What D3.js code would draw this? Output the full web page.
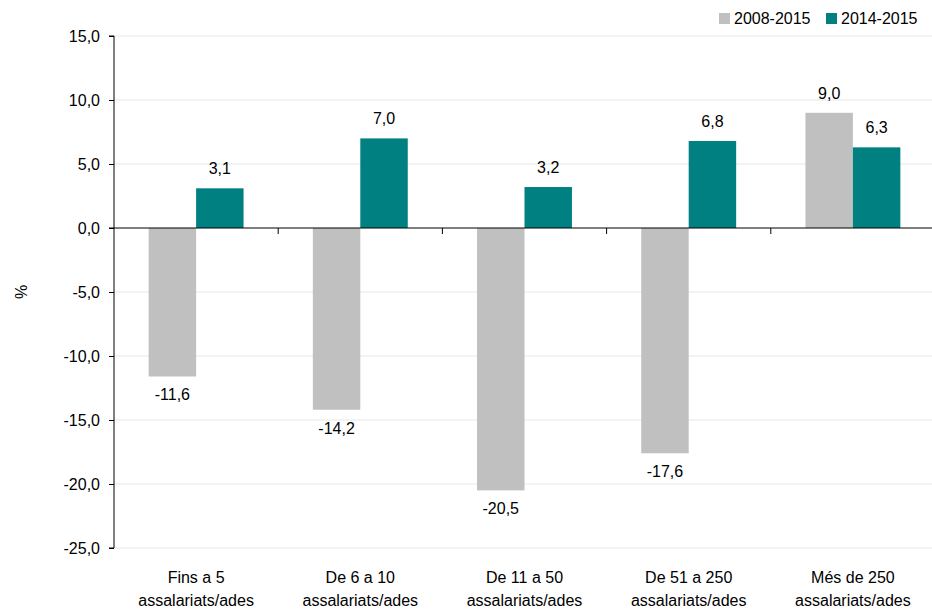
<!DOCTYPE html>
<html>
<head>
<meta charset="utf-8">
<script src="https://cdn.jsdelivr.net/npm/d3@7"></script>
<style>
  body { margin: 0; background: #fff; }
  text { font-family: "Liberation Sans", Arial, sans-serif; }
</style>
</head>
<body>
<svg id="chart" width="932" height="612"></svg>
<script>
var categories = [
  ["Fins a 5", "assalariats/ades"],
  ["De 6 a 10", "assalariats/ades"],
  ["De 11 a 50", "assalariats/ades"],
  ["De 51 a 250", "assalariats/ades"],
  ["Més de 250", "assalariats/ades"]
];
var seriesNames = ["2008-2015", "2014-2015"];
var values2008 = [-11.6, -14.2, -20.5, -17.6, 9.0];
var values2014 = [3.1, 7.0, 3.2, 6.8, 6.3];
var yTicks = [15, 10, 5, 0, -5, -10, -15, -20, -25];
var colors = ['#C0C0C0', '#008080'];

// comma decimal, plain hyphen for negatives
var fmt = function(v) { return v.toFixed(1).replace('.', ','); };

const svg = d3.select('#chart');
const x0 = d3.scaleBand().domain(d3.range(categories.length)).range([114, 935]);
const x1 = d3.scaleBand().domain([0, 1]).range([0, x0.bandwidth()]).paddingOuter(0.73);
const y = d3.scaleLinear().domain([-25, 15]).range([548, 36]);

// gridlines
svg.append('g').selectAll('line')
   .data(yTicks.filter(d => d !== 0))
   .enter().append('line')
   .attr('x1', 114).attr('x2', 932)
   .attr('y1', d => y(d)).attr('y2', d => y(d))
   .attr('stroke', '#e6e6e6').attr('stroke-width', 1);

// bars
var rows = categories.map((c, i) => [values2008[i], values2014[i]]);
var groups = svg.append('g').selectAll('g')
   .data(rows).enter().append('g')
   .attr('transform', (d, i) => 'translate(' + x0(i) + ',0)');

groups.selectAll('rect')
   .data(d => d.map((v, j) => ({v: v, j: j})))
   .enter().append('rect')
   .attr('x', d => x1(d.j))
   .attr('width', x1.bandwidth())
   .attr('y', d => y(Math.max(0, d.v)))
   .attr('height', d => Math.abs(y(d.v) - y(0)))
   .attr('fill', d => colors[d.j]);

groups.selectAll('text.val')
   .data(d => d.map((v, j) => ({v: v, j: j})))
   .enter().append('text')
   .attr('class', 'val')
   .attr('x', d => x1(d.j) + x1.bandwidth() / 2)
   .attr('y', d => d.v >= 0 ? y(d.v) - 14 : y(d.v) + 24)
   .attr('text-anchor', 'middle')
   .attr('font-size', '16px')
   .attr('fill', '#000')
   .text(d => fmt(d.v));

// y axis
const yAxis = d3.axisLeft(y).tickValues(yTicks).tickSize(5).tickPadding(9).tickFormat(fmt);
var yg = svg.append('g').attr('transform', 'translate(114,0)').call(yAxis);
yg.select('.domain').attr('d', 'M-5,' + y(15) + 'H0V' + y(-25) + 'H-5').attr('stroke', '#000');
yg.selectAll('.tick line').attr('stroke', '#000');
yg.selectAll('.tick text').attr('font-size', '16px').attr('fill', '#000')
  .style('font-family', '"Liberation Sans", Arial, sans-serif');

// zero line with category ticks
svg.append('line')
   .attr('x1', 109).attr('x2', 932)
   .attr('y1', y(0)).attr('y2', y(0))
   .attr('stroke', '#000').attr('stroke-width', 1.2);
svg.append('g').selectAll('line')
   .data(d3.range(1, categories.length))
   .enter().append('line')
   .attr('x1', d => x0(d)).attr('x2', d => x0(d))
   .attr('y1', y(0)).attr('y2', y(0) + 6)
   .attr('stroke', '#000');

// x labels
var xl = svg.append('g').selectAll('text')
   .data(categories).enter().append('text')
   .attr('x', (d, i) => x0(i) + x0.bandwidth() / 2)
   .attr('y', 583)
   .attr('text-anchor', 'middle')
   .attr('font-size', '16px')
   .attr('fill', '#000');
xl.append('tspan').attr('x', (d, i) => x0(i) + x0.bandwidth() / 2).text(d => d[0]);
xl.append('tspan').attr('x', (d, i) => x0(i) + x0.bandwidth() / 2).attr('dy', 23).text(d => d[1]);

// y label
svg.append('text')
   .attr('transform', 'translate(27,292) rotate(-90)')
   .attr('text-anchor', 'middle')
   .attr('font-size', '16px')
   .text('%');

// legend
var legX = [719, 826];
var leg = svg.append('g').selectAll('g')
   .data(seriesNames).enter().append('g')
   .attr('transform', (d, i) => 'translate(' + legX[i] + ',13)');
leg.append('rect').attr('width', 11).attr('height', 11).attr('fill', (d, i) => colors[i]);
leg.append('text').attr('x', 15).attr('y', 11).attr('font-size', '16px').text(d => d);
</script>
</body>
</html>
